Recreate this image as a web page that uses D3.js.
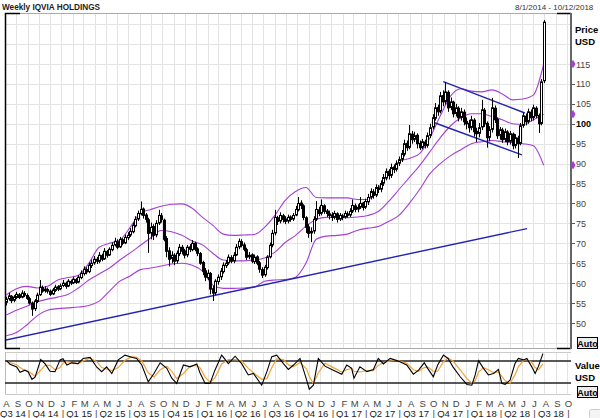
<!DOCTYPE html>
<meta charset="utf-8">
<script src="https://d3js.org/d3.v7.min.js"></script>
<style>
  body { margin: 0; background: #fff; }
  text { font-family: "Liberation Sans", Arial, sans-serif; }
</style>
<div id="chart"></div>
<script>
// weekly bars, week 0 starts Monday 2014-08-04
var firstWeek = new Date(2014, 7, 4);

var opens = [55.2,56.1,56.7,55.7,56.4,57.1,56.5,57.4,56.9,56.1,
  55.0,53.6,55.4,57.1,58.9,58.1,58.4,58.0,57.3,58.2,
  59.1,58.6,59.4,60.0,59.3,60.4,60.1,60.9,60.3,61.4,
  62.4,63.4,62.9,64.4,65.1,66.0,65.5,66.9,66.1,67.9,
  67.1,68.4,69.6,70.4,69.1,70.9,70.1,71.4,72.1,72.9,
  74.4,76.1,77.4,78.6,77.1,75.9,72.6,74.2,72.1,75.1,
  76.9,75.8,71.2,68.1,66.2,67.0,65.6,67.4,69.0,68.1,
  67.1,69.1,68.4,70.0,68.6,67.4,65.2,63.1,61.4,62.4,
  58.6,57.6,60.4,61.6,62.9,64.4,65.1,66.4,65.6,67.1,
  69.1,70.4,69.6,68.4,66.6,67.1,65.4,66.6,65.1,63.4,
  62.1,63.9,66.6,69.6,72.6,76.4,75.6,76.9,76.1,75.6,
  76.6,76.1,77.1,78.4,80.1,79.4,76.4,74.1,72.6,73.1,
  76.1,78.4,77.6,79.4,78.1,77.4,77.1,76.6,77.4,76.1,
  76.9,76.6,77.4,77.1,78.1,79.4,78.6,79.1,80.1,79.1,
  80.4,81.6,82.9,82.1,83.9,83.6,85.1,86.4,88.1,87.1,
  89.1,88.6,90.1,91.1,92.4,95.1,94.1,97.4,96.1,97.1,
  95.1,94.1,95.4,94.6,97.1,99.2,101.4,104.1,103.2,107.1,
  105.6,107.9,104.1,105.4,102.6,103.9,101.6,102.9,100.6,100.1,
  99.1,100.9,98.1,97.6,99.2,103.4,100.1,96.6,98.6,103.9,
  101.1,97.1,98.4,96.1,97.9,95.6,97.4,94.6,96.4,95.1,
  99.6,101.9,100.6,102.9,101.6,103.9,102.1,100.1,110.8];

var highs = [56.6,57.6,57.0,57.0,57.8,57.5,58.2,58.0,57.4,56.6,
  55.4,56.0,57.6,60.8,59.4,59.2,58.9,58.4,58.8,59.6,
  59.5,59.9,60.8,60.4,61.0,60.9,61.6,61.3,62.0,63.2,
  64.2,64.0,65.2,65.9,66.8,66.6,67.8,67.4,68.8,68.3,
  69.0,70.2,71.4,71.0,71.6,71.3,72.2,72.8,73.8,75.2,
  76.8,78.2,80.5,79.0,77.6,76.4,75.2,74.8,75.8,78.4,
  77.6,76.2,71.8,69.0,68.0,67.5,68.2,69.8,69.6,68.6,
  69.6,69.8,70.8,70.4,69.0,67.8,65.6,63.8,63.4,62.8,
  59.4,61.0,62.2,63.8,65.2,65.8,67.2,67.0,67.8,69.8,
  71.2,71.0,70.2,68.9,67.8,67.5,67.2,67.0,65.6,64.0,
  64.6,67.0,70.2,73.4,78.4,76.9,77.8,77.4,76.8,77.2,
  77.0,77.6,79.4,81.6,80.8,79.8,76.8,74.8,74.0,76.8,
  80.6,79.2,81.0,79.8,78.6,78.2,77.8,78.2,77.8,77.6,
  77.4,78.2,78.0,78.8,81.0,80.0,79.8,81.6,80.4,81.2,
  82.4,83.8,83.6,84.8,84.6,85.8,87.4,88.8,88.6,90.0,
  89.8,90.8,91.8,93.4,96.0,95.8,99.7,98.2,98.0,97.6,
  95.8,96.2,96.0,97.8,100.0,102.4,105.2,104.8,108.0,108.4,
  110.5,108.4,106.6,105.8,105.0,104.4,104.0,103.6,101.6,101.0,
  102.0,101.4,99.0,100.2,106.0,104.0,100.6,99.4,106.5,104.6,
  101.6,99.2,99.0,98.8,98.4,98.2,97.8,97.4,97.0,100.2,
  102.8,102.6,103.8,103.6,104.8,104.4,102.6,111.2,126.0];

var lows = [54.4,55.6,55.0,55.2,56.0,56.0,56.2,56.5,55.8,54.6,
  51.8,53.0,55.0,56.8,57.6,57.6,57.4,56.8,57.0,57.8,
  58.0,58.2,59.0,58.6,59.0,59.5,59.8,59.8,60.0,61.0,
  61.9,62.2,62.5,63.8,64.6,64.8,65.0,65.5,65.8,66.4,
  66.8,68.0,69.2,68.5,68.8,69.5,69.8,70.8,71.6,72.5,
  74.0,75.6,77.0,76.2,75.2,67.6,71.0,70.8,71.5,74.6,
  75.2,70.5,66.5,64.2,65.0,64.5,65.0,66.8,67.2,66.2,
  66.5,67.8,68.0,68.0,66.8,64.6,62.0,60.5,60.8,57.2,
  55.5,57.0,59.6,60.8,62.4,63.8,64.6,65.0,65.0,66.8,
  68.5,69.0,68.0,65.8,66.0,65.0,64.8,64.5,62.6,61.3,
  61.6,63.4,66.2,69.0,72.0,74.6,75.0,75.2,74.8,75.0,
  75.4,75.6,76.8,78.0,78.6,75.8,72.6,71.4,70.3,72.4,
  75.6,76.8,77.0,77.4,76.6,76.0,75.6,76.0,75.2,75.6,
  75.8,76.2,76.4,76.6,77.6,77.8,77.8,78.6,78.2,78.6,
  79.6,81.0,81.2,81.6,82.6,82.8,84.4,85.8,86.0,86.4,
  87.6,88.0,89.4,90.4,91.8,93.2,93.6,95.0,95.4,93.8,
  93.4,93.6,93.8,94.0,96.4,98.6,100.8,102.0,102.6,104.4,
  104.8,103.0,103.4,101.6,101.8,100.6,100.8,99.6,98.6,97.8,
  98.4,96.8,95.4,96.6,98.4,99.2,94.0,95.6,97.8,100.2,
  96.2,96.0,95.2,95.4,94.6,94.8,93.6,93.8,91.4,94.6,
  99.0,99.6,100.0,100.6,100.8,101.4,97.7,99.6,110.2];

var closes = [56.0,56.8,55.6,56.5,57.2,56.4,57.5,57.0,56.2,55.0,
  53.5,55.5,57.0,59.0,58.0,58.5,58.0,57.2,58.3,59.0,
  58.5,59.3,60.0,59.2,60.5,60.0,61.0,60.2,61.5,62.5,
  63.5,62.8,64.5,65.0,66.0,65.5,67.0,66.0,68.0,67.0,
  68.5,69.5,70.5,69.0,71.0,70.0,71.5,72.0,73.0,74.5,
  76.0,77.5,78.5,77.0,76.0,72.5,74.0,72.0,75.0,77.0,
  76.0,71.0,68.0,66.0,67.0,65.5,67.5,69.0,68.0,67.0,
  69.0,68.5,70.0,68.5,67.5,65.0,63.0,61.5,62.5,58.5,
  57.5,60.5,61.5,63.0,64.5,65.0,66.5,65.5,67.0,69.0,
  70.5,69.5,68.5,66.5,67.0,65.5,66.5,65.0,63.5,62.0,
  64.0,66.5,69.5,72.5,76.5,75.5,77.0,76.0,75.5,76.5,
  76.0,77.0,78.5,80.0,79.5,76.5,74.0,72.5,73.0,76.0,
  78.5,77.5,79.5,78.0,77.5,77.0,76.5,77.5,76.0,77.0,
  76.5,77.5,77.0,78.0,79.5,78.5,79.0,80.0,79.0,80.5,
  81.5,83.0,82.0,84.0,83.5,85.0,86.5,88.0,87.0,89.0,
  88.5,90.0,91.0,92.5,95.0,94.0,97.5,96.0,97.0,95.0,
  94.0,95.5,94.5,97.0,99.0,101.5,104.0,103.0,107.0,105.5,
  108.0,104.0,105.5,102.5,104.0,101.5,103.0,100.5,100.0,99.0,
  101.0,98.0,97.5,99.0,103.5,100.0,96.5,98.5,104.0,101.0,
  97.0,98.5,96.0,98.0,95.5,97.5,94.5,96.5,95.0,99.5,
  102.0,100.5,103.0,101.5,104.0,102.0,100.0,110.5,125.5];

// Bollinger bands read every 4 weeks (week index 0, 4, ... 208)
var bandWeeks = d3.range(0, 209, 4);
var bandUpper = [57.0,58.6,59.2,58.8,59.2,60.8,61.4,62.0,65.0,69.0,
  70.0,70.8,74.0,77.6,78.5,79.3,79.8,79.9,78.8,76.5,
  74.5,72.3,72.0,72.1,72.2,74.0,77.0,80.8,83.0,84.0,
  81.5,81.4,81.4,81.4,81.0,81.0,83.8,87.5,90.5,91.3,
  92.5,96.5,102.0,107.0,108.8,108.2,108.0,108.5,107.5,106.0,
  106.2,107.2,115.0];
var bandMiddle = [52.0,53.2,54.2,55.3,56.0,56.5,57.2,58.8,60.8,62.3,
  63.8,65.8,67.6,69.5,71.4,73.2,72.9,72.0,70.6,69.6,
  67.5,65.8,65.6,65.6,65.8,66.3,67.8,70.2,72.0,74.3,
  76.0,76.5,76.5,76.4,76.6,77.0,78.0,80.5,83.5,86.5,
  89.5,93.0,96.5,99.5,101.5,102.5,102.5,101.8,101.0,100.0,
  99.8,101.0,102.4];
var bandLower = [46.8,47.6,49.5,51.8,53.2,53.6,53.8,54.0,54.4,55.5,
  58.0,60.5,61.8,63.4,63.8,64.3,64.8,65.0,64.5,63.0,
  59.5,58.7,58.7,58.8,59.0,60.5,60.8,60.9,61.5,65.0,
  71.0,71.8,72.0,72.3,73.3,73.8,74.2,75.5,77.0,80.0,
  83.5,87.5,90.0,92.0,93.5,95.0,95.5,95.8,95.5,95.3,
  95.0,94.5,89.6];

// stochastic oscillator, read at week positions
var stochWeeks = [0.2,1.5,4.1,5.4,7.3,8.5,10.0,11.2,13.4,15.1,17.0,18.9,20.9,22.0,23.5,25.4,27.8,29.8,32.5,35.1,
  37.0,38.9,40.9,43.4,46.0,48.6,50.5,52.5,55.0,57.2,59.6,62.2,64.1,66.0,68.6,71.2,73.8,75.0,77.0,78.9,
  80.8,83.4,86.0,88.6,91.2,93.7,95.7,98.9,100.9,102.8,104.7,107.3,109.2,111.2,113.7,116.3,117.3,118.9,120.8,123.4,
  126.6,129.9,131.8,133.7,134.6,136.9,139.6,142.1,144.0,146.0,148.6,151.2,152.4,155.0,157.6,159.6,161.8,163.1,165.3,167.0,
  169.2,171.0,172.9,175.7,178.3,180.2,181.5,182.8,184.7,186.6,188.6,190.5,191.8,193.1,195.0,196.9,198.2,200.2,201.5,203.4,
  204.7,206.0,207.7];
var stochK = [81,71,64,49,55,51,30,36,84,72,52,51,83,86,69,75,73,87,90,63,
  51,64,46,83,96,90,87,69,23,46,75,60,33,19,69,64,72,48,19,19,
  55,96,73,93,72,42,46,14,51,92,96,73,57,69,87,28,3,14,87,66,
  55,44,69,60,33,64,51,57,87,72,87,81,78,69,44,55,75,60,37,69,
  96,87,64,37,16,14,42,81,60,42,46,57,19,16,28,73,87,83,87,64,
  46,66,100];
var stochD = [78,76,70,62,54,52,45,38,55,68,68,56,62,74,78,76,72,80,88,78,
  62,58,54,62,82,92,90,80,48,36,56,66,52,32,46,66,68,62,36,22,
  34,72,84,84,80,60,48,30,32,62,86,84,70,64,76,58,38,18,48,74,
  62,50,56,60,52,50,54,54,68,76,80,82,80,74,56,52,62,64,52,52,
  78,88,80,56,32,20,26,50,62,56,48,50,38,26,20,42,64,82,84,76,
  62,56,72];

// trend lines: [start date, end date] and [start price, end price]
var trendDates = [["2014-08-01", "2018-06-15"], ["2017-10-31", "2018-06-09"], ["2017-09-30", "2018-06-01"]];
var trendPrices = [[45.7, 73.7], [110.6, 102.7], [100.5, 92.2]];

var priceTicks = [50, 55, 60, 65, 70, 75, 80, 85, 90, 95, 100, 105, 110, 115];
var monthLetters = ["J", "F", "M", "A", "M", "J", "J", "A", "S", "O", "N", "D"];

var W = 600, H = 418;
var plot = {left: 5, right: 571, top: 13, bottom: 348};
var lowPanel = {top: 352, bottom: 394};

var svg = d3.select("#chart").append("svg")
  .attr("width", W).attr("height", H);

var x = d3.scaleTime()
  .domain([new Date(2014, 7, 1), new Date(2018, 9, 12)])
  .range([plot.left, plot.right]);
var y = d3.scaleLinear().domain([50, 115]).range([323, 64]);
var ys = d3.scaleLinear().domain([20, 80]).range([383, 361]);

function weekDate(w) { return new Date(firstWeek.getTime() + w * 7 * 864e5); }
function crisp(v) { return Math.round(v) + 0.5; }

var months = d3.timeMonth.range(new Date(2014, 7, 1), new Date(2018, 9, 12));

// grid
var grid = svg.append("g").attr("stroke", "#e3e3e3").attr("stroke-width", 1);
months.slice(1).forEach(function(m) {
  grid.append("line").attr("x1", crisp(x(m))).attr("x2", crisp(x(m)))
    .attr("y1", plot.top).attr("y2", plot.bottom);
  grid.append("line").attr("x1", crisp(x(m))).attr("x2", crisp(x(m)))
    .attr("y1", lowPanel.top).attr("y2", lowPanel.bottom);
});
d3.range(45, 130, 5).forEach(function(p) {
  var yy = y(p);
  if (yy > plot.top && yy < plot.bottom)
    grid.append("line").attr("x1", plot.left).attr("x2", plot.right)
      .attr("y1", crisp(yy)).attr("y2", crisp(yy));
});

// frame
svg.append("line").attr("x1", plot.left).attr("x2", plot.right).attr("y1", 13.5).attr("y2", 13.5).attr("stroke", "#aaa");
svg.append("line").attr("x1", plot.left).attr("x2", plot.right).attr("y1", 348.5).attr("y2", 348.5).attr("stroke", "#aaa");
svg.append("line").attr("x1", plot.left).attr("x2", plot.right).attr("y1", lowPanel.top + 0.5).attr("y2", lowPanel.top + 0.5).attr("stroke", "#ccc");
svg.append("line").attr("x1", plot.left).attr("x2", plot.right).attr("y1", lowPanel.bottom + 0.5).attr("y2", lowPanel.bottom + 0.5).attr("stroke", "#ccc");
svg.append("line").attr("x1", 5.5).attr("x2", 5.5).attr("y1", lowPanel.top).attr("y2", lowPanel.bottom).attr("stroke", "#bbb");
var frame = svg.append("g").attr("stroke", "#000").attr("stroke-width", 1.5);
frame.append("line").attr("x1", 5.5).attr("x2", 5.5).attr("y1", 13).attr("y2", 349);
frame.append("line").attr("x1", 5).attr("x2", 20).attr("y1", 13.5).attr("y2", 13.5);
frame.append("line").attr("x1", 5).attr("x2", 20).attr("y1", 348.5).attr("y2", 348.5);
frame.append("line").attr("x1", 557).attr("x2", 571).attr("y1", 13.5).attr("y2", 13.5);
frame.append("line").attr("x1", 557).attr("x2", 571).attr("y1", 348.5).attr("y2", 348.5);

svg.append("clipPath").attr("id", "clipMain").append("rect")
  .attr("x", plot.left + 1).attr("y", plot.top).attr("width", plot.right - plot.left - 1).attr("height", plot.bottom - plot.top);
var main = svg.append("g").attr("clip-path", "url(#clipMain)");

// bollinger bands
var bandLine = function(vals) {
  return d3.line()
    .x(function(d, i) { return x(weekDate(bandWeeks[i])); })
    .y(function(d) { return y(d); })
    .curve(d3.curveMonotoneX)(vals);
};
[bandUpper, bandMiddle, bandLower].forEach(function(vals) {
  main.append("path").attr("d", bandLine(vals))
    .attr("fill", "none").attr("stroke", "#a53fd6").attr("stroke-width", 1.1);
});

// trend lines
trendDates.forEach(function(td, i) {
  main.append("line")
    .attr("x1", x(new Date(td[0]))).attr("y1", y(trendPrices[i][0]))
    .attr("x2", x(new Date(td[1]))).attr("y2", y(trendPrices[i][1]))
    .attr("stroke", "#2424b0").attr("stroke-width", 1.4);
});

// candles
var candles = closes.map(function(c, i) {
  return {date: weekDate(i), o: opens[i], h: highs[i], l: lows[i], c: c};
});
main.selectAll("line.wick").data(candles).join("line").attr("class", "wick")
  .attr("x1", function(d) { return crisp(x(d.date)); })
  .attr("x2", function(d) { return crisp(x(d.date)); })
  .attr("y1", function(d) { return y(d.h); })
  .attr("y2", function(d) { return y(d.l); })
  .attr("stroke", "#000").attr("stroke-width", 1);
main.selectAll("rect.body").data(candles).join("rect").attr("class", "body")
  .attr("x", function(d) { return Math.round(x(d.date)) - 0.5; })
  .attr("y", function(d) { return y(Math.max(d.o, d.c)); })
  .attr("width", 2)
  .attr("height", function(d) { return Math.max(0.8, Math.abs(y(d.o) - y(d.c))); })
  .attr("fill", function(d) { return d.c >= d.o ? "#fff" : "#000"; })
  .attr("stroke", "#000").attr("stroke-width", 1);

// price axis
svg.append("line").attr("x1", 571).attr("x2", 571).attr("y1", 13).attr("y2", 349)
  .attr("stroke", "#666").attr("stroke-width", 2);
var axisG = svg.append("g");
priceTicks.forEach(function(p) {
  axisG.append("line").attr("x1", 572).attr("x2", 575).attr("y1", crisp(y(p))).attr("y2", crisp(y(p)))
    .attr("stroke", "#555");
  axisG.append("text").attr("x", 576).attr("y", y(p) + 3.5)
    .attr("font-size", 9).attr("fill", p === 100 ? "#000" : "#444")
    .attr("font-weight", p === 100 ? "bold" : "normal")
    .text(p);
});
// band value markers
[bandUpper, bandMiddle, bandLower].forEach(function(vals) {
  var v = vals[vals.length - 1];
  svg.append("path").attr("d", d3.symbol(d3.symbolDiamond, 22)())
    .attr("transform", "translate(573," + y(v) + ")")
    .attr("fill", "#a53fd6");
});

svg.append("text").attr("x", 575).attr("y", 33).attr("font-size", 9.5).attr("font-weight", "bold").text("Price");
svg.append("text").attr("x", 575).attr("y", 45).attr("font-size", 9.5).attr("font-weight", "bold").text("USD");
svg.append("text").attr("x", 575).attr("y", 369).attr("font-size", 9.5).attr("font-weight", "bold").text("Value");
svg.append("text").attr("x", 575).attr("y", 381).attr("font-size", 9.5).attr("font-weight", "bold").text("USD");

function autoBox(yTop) {
  svg.append("rect").attr("x", 577.5).attr("y", yTop + 0.5).attr("width", 20).attr("height", 11)
    .attr("fill", "#ececec").attr("stroke", "#000");
  svg.append("text").attr("x", 587.5).attr("y", yTop + 9.5).attr("text-anchor", "middle")
    .attr("font-size", 9).attr("font-weight", "bold").text("Auto");
}
autoBox(337);
autoBox(386);
svg.append("rect").attr("x", 589.5).attr("y", 409.5).attr("width", 12).attr("height", 10)
  .attr("rx", 2).attr("fill", "#f4f4f4").attr("stroke", "#ccc");

// lower panel: stochastic
svg.append("clipPath").attr("id", "clipLow").append("rect")
  .attr("x", plot.left).attr("y", lowPanel.top).attr("width", plot.right - plot.left).attr("height", lowPanel.bottom - lowPanel.top);
var lowG = svg.append("g").attr("clip-path", "url(#clipLow)");
[80, 20].forEach(function(v) {
  lowG.append("line").attr("x1", plot.left).attr("x2", plot.right)
    .attr("y1", ys(v)).attr("y2", ys(v)).attr("stroke", "#222").attr("stroke-width", 1.6);
});
var stochLine = d3.line()
  .x(function(d, i) { return x(weekDate(stochWeeks[i])); })
  .y(function(d) { return ys(d); });
lowG.append("path").attr("d", stochLine(stochD)).attr("fill", "none")
  .attr("stroke", "#f0a23c").attr("stroke-width", 1.2);
lowG.append("path").attr("d", stochLine(stochK)).attr("fill", "none")
  .attr("stroke", "#000").attr("stroke-width", 1.1);

// x axis labels
months.forEach(function(m) {
  svg.append("text").attr("x", x(m) + 1.5).attr("y", 406.5).attr("text-anchor", "middle")
    .attr("font-size", 9.5).attr("fill", "#444").text(monthLetters[m.getMonth()]);
});
var quarters = d3.timeMonth.every(3).range(new Date(2014, 6, 1), new Date(2018, 8, 30));
quarters.forEach(function(q, i) {
  var qEnd = d3.timeMonth.offset(q, 3);
  var lab = "Q" + (Math.floor(q.getMonth() / 3) + 1) + " " + String(q.getFullYear()).slice(2);
  var x0 = Math.max(x(q), 0), x1 = x(qEnd);
  var t = svg.append("text").attr("y", 416.5).attr("font-size", 9.5).attr("fill", "#222").text(lab);
  if (i === 0) t.attr("x", 0);
  else t.attr("x", (x0 + x1) / 2 + 1).attr("text-anchor", "middle");
  svg.append("text").attr("x", x1 + 1.5).attr("y", 416.5).attr("text-anchor", "middle")
    .attr("font-size", 9.5).attr("fill", "#444").text("|");
});

// titles
svg.append("text").attr("x", 2).attr("y", 10).attr("font-size", 9.5).attr("font-weight", "bold")
  .attr("fill", "#222").attr("textLength", 98).attr("lengthAdjust", "spacingAndGlyphs")
  .text("Weekly IQVIA HOLDINGS");
svg.append("text").attr("x", 515).attr("y", 10).attr("font-size", 8)
  .attr("fill", "#333")
  .text("8/1/2014 - 10/12/2018");
</script>
